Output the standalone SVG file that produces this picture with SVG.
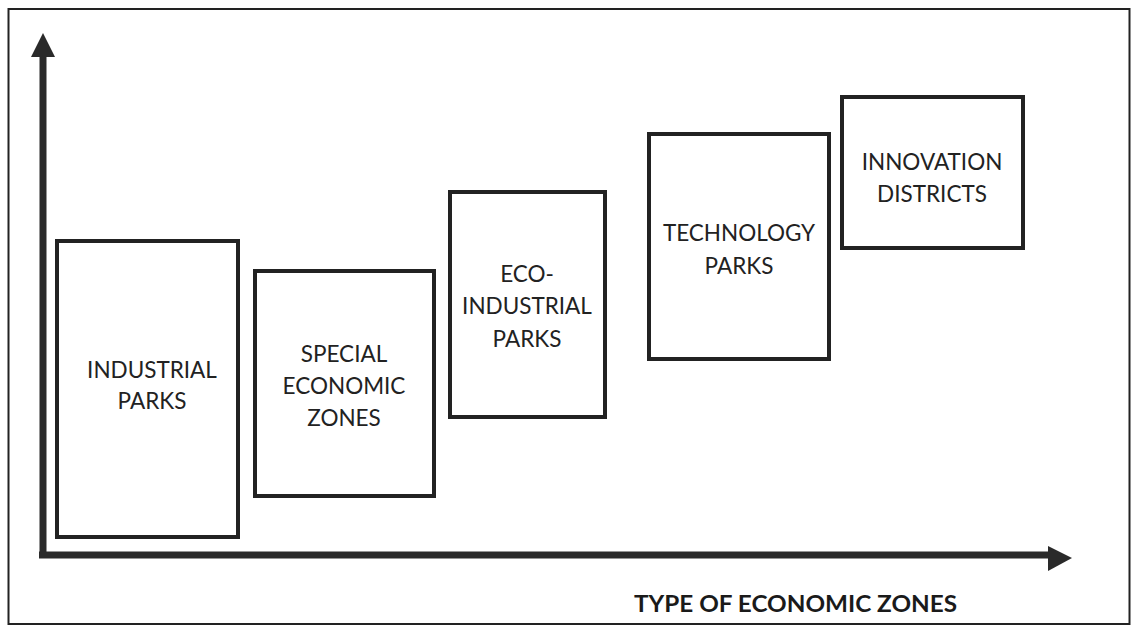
<svg xmlns="http://www.w3.org/2000/svg" width="1133" height="627" viewBox="0 0 1133 627">
<style>
.box{fill:#fff;stroke:#222;stroke-width:4}
.lbl{font-family:Lato,"Open Sans","Liberation Sans",sans-serif;font-size:22.5px;fill:#222;text-anchor:middle}
.axis{stroke:#2a2a2a;stroke-width:7;fill:none}
.title{font-family:Lato,"Open Sans","Liberation Sans",sans-serif;font-size:23.5px;font-weight:bold;fill:#1a1a1a}
</style>
<rect x="0" y="0" width="1133" height="627" fill="#fff"/>
<rect x="8.5" y="9" width="1121" height="615" fill="none" stroke="#222" stroke-width="2"/>
<g id="connectors">
<line class="axis" x1="43" y1="55" x2="43" y2="557"/>
<polygon points="43,33 31,57 55,57" fill="#2a2a2a"/>
<line class="axis" x1="39" y1="555" x2="1050" y2="555"/>
<polygon points="1072,558 1048,546 1048,571" fill="#2a2a2a"/>
</g>
<g id="industrial-parks">
<rect class="box" x="57" y="241" width="181" height="296"/>
<text class="lbl" x="152" y="378">INDUSTRIAL</text>
<text class="lbl" x="152" y="409">PARKS</text>
</g>
<g id="special-economic-zones">
<rect class="box" x="255" y="271" width="179" height="225"/>
<text class="lbl" x="344" y="362">SPECIAL</text>
<text class="lbl" x="344" y="394">ECONOMIC</text>
<text class="lbl" x="344" y="426">ZONES</text>
</g>
<g id="eco-industrial-parks">
<rect class="box" x="450" y="192" width="155" height="225"/>
<text class="lbl" x="527" y="282">ECO-</text>
<text class="lbl" x="527" y="314">INDUSTRIAL</text>
<text class="lbl" x="527" y="347">PARKS</text>
</g>
<g id="technology-parks">
<rect class="box" x="649" y="134" width="180" height="225"/>
<text class="lbl" x="739" y="241">TECHNOLOGY</text>
<text class="lbl" x="739" y="274">PARKS</text>
</g>
<g id="innovation-districts">
<rect class="box" x="842" y="97" width="181" height="151"/>
<text class="lbl" x="932" y="170">INNOVATION</text>
<text class="lbl" x="932" y="202">DISTRICTS</text>
</g>
<text class="title" x="634" y="612" textLength="323" lengthAdjust="spacingAndGlyphs">TYPE OF ECONOMIC ZONES</text>
</svg>
